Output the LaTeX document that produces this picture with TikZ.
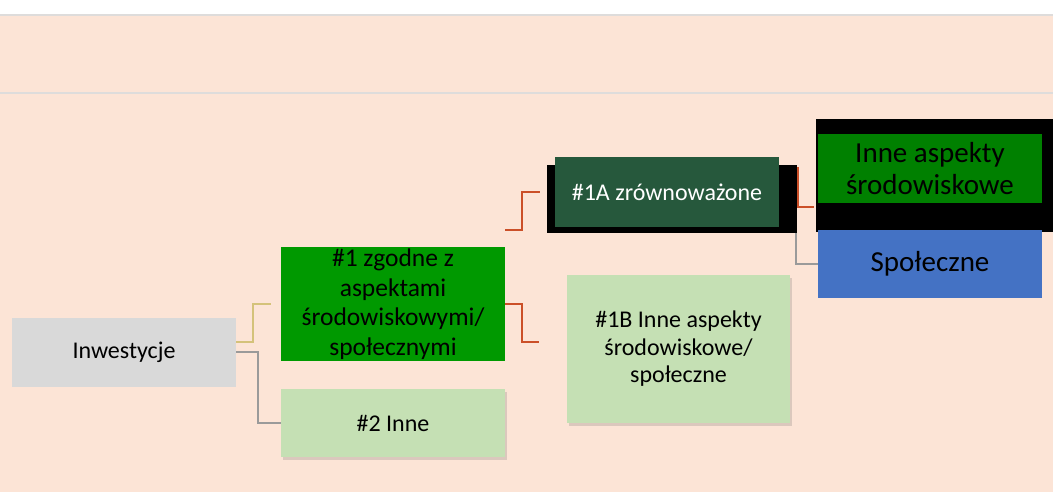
\documentclass[tikz,border=0pt]{standalone}
\usepackage{fontspec}
\setmainfont{Carlito}
\usetikzlibrary{shadows,calc}
\definecolor{peach}{HTML}{FCE4D6}
\definecolor{linegray}{HTML}{DEDCDB}
\definecolor{boxgray}{HTML}{D9D9D9}
\definecolor{brightgreen}{HTML}{009900}
\definecolor{lightgreen}{HTML}{C5E0B4}
\definecolor{darkgreen}{HTML}{26583C}
\definecolor{midgreen}{HTML}{008000}
\definecolor{blueish}{HTML}{4472C4}
\definecolor{yelline}{HTML}{D4C27A}
\definecolor{redline}{HTML}{CB4F28}
\definecolor{grayline}{HTML}{9A9A9A}
\begin{document}
\begin{tikzpicture}[x=1pt,y=-1pt,
  box/.style={rectangle, inner sep=0pt, align=center, text=black, font=\fontsize{24}{28}\selectfont},
  shadowed/.style={drop shadow={shadow xshift=2pt, shadow yshift=-3pt, opacity=0.22, fill=black!60}},
  conn/.style={line width=1.8pt},
  yconn/.style={conn, draw=yelline},
  rconn/.style={conn, draw=redline},
  gconn/.style={conn, draw=grayline}]
\useasboundingbox (0,0) rectangle (1053,492);
\fill[white] (0,0) rectangle (1053,492);
\fill[peach] (0,15) rectangle (1053,492);
\fill[linegray] (0,14) rectangle (1053,16);
\fill[linegray] (0,92) rectangle (1053,94);

% free connector ends
\coordinate (c1) at (271,304);
\coordinate (c1A) at (540,192);
\coordinate (c1B) at (539,342);
\coordinate (cenv) at (814,207);

% nodes
\node[box, fill=boxgray, minimum width=224pt, minimum height=69pt] (inw) at (124,352.5) {Inwestycje};
\node[box, fill=brightgreen, minimum width=224pt, minimum height=114pt, font=\fontsize{25.5}{29.5}\selectfont] (n1) at (393,304) {\#1 zgodne z\\aspektami\\środowiskowymi/\\społecznymi};
\node[box, fill=lightgreen, shadowed, minimum width=224pt, minimum height=68pt] (n2) at (393,423) {\#2 Inne};
\node[box, fill=lightgreen, shadowed, minimum width=223pt, minimum height=148pt, font=\fontsize{24}{27.5}\selectfont] (n1B) at (678.5,349) {\#1B Inne aspekty\\środowiskowe/\\społeczne};

% connectors drawn under the upper boxes
\draw[yconn] ($(inw.north east)+(0,24)$) -| (253,304) -- (c1);
\draw[gconn] ($(inw.north east)+(0,34)$) -| (258,423) -- (n2.west);
\draw[rconn] (n1.east) -| (522,342) -- (c1B);
\draw[rconn] ($(n1.north east)+(0,-17)$) -| (522,192) -- (c1A);
\draw[rconn] (779,168) -- (798,168) |- (cenv);

\node[box, fill=black, minimum width=250pt, minimum height=68pt] (n1Ab) at (672,199) {};
\node[box, fill=darkgreen, text=white, minimum width=224pt, minimum height=70pt] (n1A) at (667,192) {\#1A zrównoważone};

\node[box, fill=black, minimum width=237pt, minimum height=113pt] (envb) at (934.5,175.5) {};
\node[box, fill=midgreen, minimum width=224pt, minimum height=69pt, font=\fontsize{29}{32}\selectfont] (env) at (930,168.5) {Inne aspekty\\środowiskowe};
\node[box, fill=blueish, minimum width=224pt, minimum height=68pt, font=\fontsize{29}{32}\selectfont] (soc) at (930,264) {Społeczne};
\draw[gconn] ($(n1Ab.south east)+(-1,0)$) |- (soc.west);
\end{tikzpicture}
\end{document}
